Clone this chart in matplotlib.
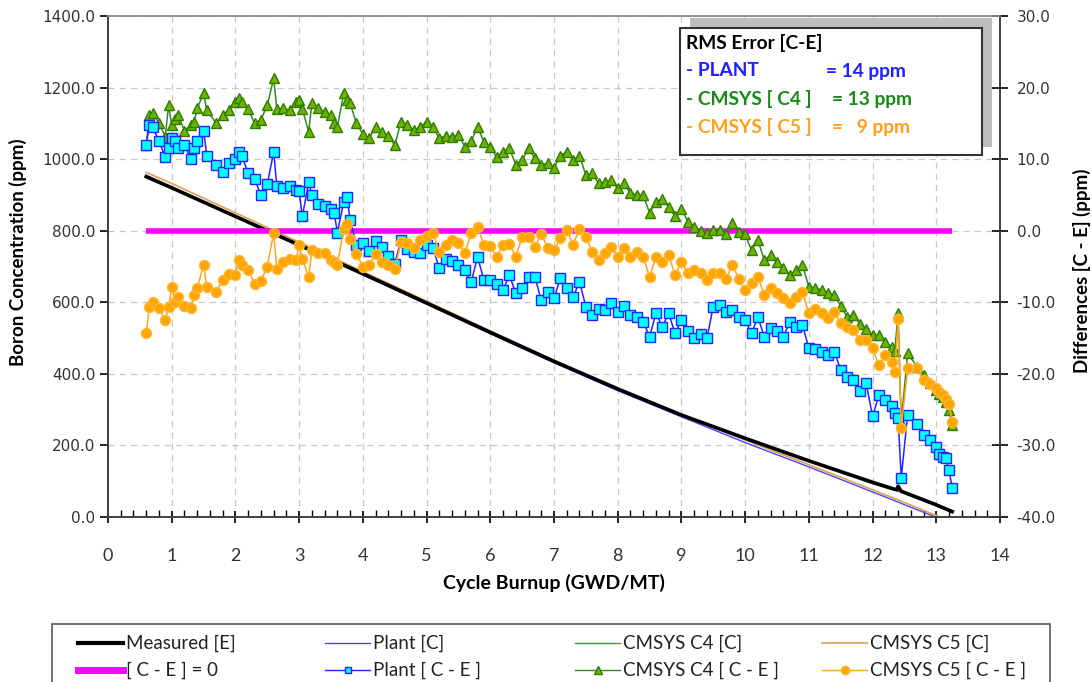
import matplotlib
matplotlib.use("Agg")
import matplotlib.pyplot as plt
from matplotlib.lines import Line2D
from matplotlib.patches import Rectangle
from matplotlib.ticker import MultipleLocator, FormatStrFormatter

# ---- data ----
burnup = [0.60, 0.65, 0.70, 0.80, 0.90, 0.95, 1.00, 1.05, 1.10, 1.20,
          1.30, 1.35, 1.40, 1.50, 1.55, 1.70, 1.80, 1.90, 2.00, 2.05,
          2.10, 2.20, 2.30, 2.40, 2.50, 2.60, 2.65, 2.75, 2.85, 2.95,
          3.00, 3.05, 3.15, 3.20, 3.30, 3.40, 3.50, 3.55, 3.60, 3.70,
          3.75, 3.80, 3.90,
          4.0, 4.1, 4.2, 4.3, 4.4, 4.5, 4.6, 4.7, 4.8, 4.9,
          5.0, 5.1, 5.2, 5.3, 5.4, 5.5, 5.6, 5.7, 5.8, 5.9,
          6.0, 6.1, 6.2, 6.3, 6.4, 6.5, 6.6, 6.7, 6.8, 6.9,
          7.0, 7.1, 7.2, 7.3, 7.4, 7.5, 7.6, 7.7, 7.8, 7.9,
          8.0, 8.1, 8.2, 8.3, 8.4, 8.5, 8.6, 8.7, 8.8, 8.9,
          9.0, 9.1, 9.2, 9.3, 9.4, 9.5, 9.6, 9.7, 9.8, 9.9,
          10.0, 10.1, 10.2, 10.3, 10.4, 10.5, 10.6, 10.7, 10.8, 10.9,
          11.0, 11.1, 11.2, 11.3, 11.4, 11.5, 11.6, 11.7, 11.8, 11.9,
          12.0, 12.1, 12.2, 12.3,
          12.35, 12.40, 12.45, 12.55, 12.70, 12.80, 12.90, 13.00, 13.05, 13.10,
          13.15, 13.20, 13.25]

plant_diff = [12.0, 14.75, 14.5, 12.5, 10.25, 11.5, 13.0, 12.5, 11.5, 12.0,
              10.0, 11.5, 12.5, 14.0, 10.5, 9.25, 8.25, 9.5, 10.0, 11.0,
              10.5, 8.0, 7.25, 5.0, 6.5, 11.0, 6.25, 6.0, 6.25, 5.75,
              5.5, 2.0, 6.75, 5.0, 3.75, 3.5, 3.0, 2.5, -0.25, 4.0,
              4.75, 1.5, -2.0,
              -1.75, -2.9, -1.5, -2.25, -3.5, -4.6, -1.3, -2.5, -3.0, -3.15,
              -2.0, -2.45, -5.25, -4.0, -4.3, -4.8, -5.5, -7.2, -3.65, -6.9,
              -6.9, -7.5, -8.3, -6.2, -8.75, -8.0, -6.45, -6.45, -9.7, -8.5,
              -9.45, -6.65, -8.0, -9.25, -7.15, -10.6, -11.75, -11.0, -11.1, -10.15,
              -11.3, -10.5, -11.75, -12.0, -12.7, -14.8, -11.55, -13.4, -11.55, -14.35,
              -12.5, -14.0, -15.05, -14.5, -15.05, -10.6, -10.4, -11.35, -11.1, -12.05,
              -12.5, -14.35, -12.05, -14.8, -13.65, -14.0, -14.8, -12.75, -13.4, -13.2,
              -16.4, -16.5, -16.9, -17.35, -16.9, -19.45, -20.4, -20.85, -22.45, -21.3,
              -25.95, -22.95, -23.65, -24.55,
              -25.5, -26.15, -34.5, -25.75, -27.0, -28.5, -29.25, -30.2, -31.25, -31.6,
              -31.75, -33.5, -35.9]

c4_diff = [12.0, 16.15, 16.5, 15.0, 13.15, 17.55, 14.75, 15.65, 16.15, 14.0,
           14.75, 15.2, 17.1, 19.2, 16.85, 15.0, 16.15, 16.85, 18.0, 18.5,
           18.0, 17.0, 15.0, 15.5, 17.5, 21.3, 17.0, 17.1, 16.85, 18.0,
           18.25, 17.0, 13.85, 17.8, 17.1, 16.6, 16.15, 15.0, 14.5, 19.2,
           18.25, 17.8, 15.0,
           13.5, 12.9, 14.55, 13.85, 13.25, 11.95, 15.25, 14.75, 14.05, 14.5,
           15.25, 14.5, 12.9, 13.25, 13.1, 13.4, 11.75, 12.5, 14.5, 12.45,
           11.75, 10.25, 11.05, 11.5, 9.25, 9.9, 11.5, 10.1, 9.25, 9.4,
           8.7, 10.5, 11.0, 9.9, 10.5, 7.75, 8.0, 6.6, 6.75, 7.05,
           5.9, 6.6, 5.2, 5.0, 4.95, 2.5, 4.0, 4.5, 3.35, 2.0,
           3.1, 1.25, 0.55, 0.0, -0.35, 0.1, 0.1, -0.5, 1.05, -0.15,
           -0.5, -2.75, -1.3, -4.1, -3.4, -4.35, -5.25, -6.2, -5.5, -4.8,
           -7.85, -8.0, -8.3, -8.75, -9.0, -10.5, -12.05, -11.8, -13.0, -13.75,
           -14.6, -14.6, -15.5, -16.25,
           -16.75, -11.45, -26.7, -17.15, -19.0, -20.15, -21.25, -22.25, -22.75, -23.25,
           -23.9, -25.0, -27.15]

c5_diff = [-14.25, -10.6, -10.0, -10.85, -12.5, -10.6, -7.85, -9.95, -9.25, -10.5,
           -10.85, -9.0, -8.0, -4.8, -7.85, -8.5, -6.9, -6.0, -6.2, -4.1,
           -4.75, -5.5, -7.4, -7.0, -5.0, -0.3, -5.3, -4.35, -3.9, -4.1,
           -2.0, -4.0, -6.45, -2.7, -3.15, -3.15, -4.1, -4.35, -4.8, 0.3,
           0.9, -1.1, -3.2,
           -5.0, -4.8, -3.2, -4.35, -4.8, -5.3, -1.55, -1.7, -2.4, -1.3,
           -0.75, -0.35, -2.95, -2.0, -1.3, -1.7, -3.1, -0.35, 0.55, -2.0,
           -2.2, -3.65, -2.0, -1.8, -3.65, -0.85, -0.85, -2.25, -0.4, -2.45,
           -2.7, -1.0, 0.1, -2.0, 0.3, -0.85, -2.95, -4.1, -3.15, -2.25,
           -3.65, -2.45, -3.65, -3.0, -3.65, -6.45, -3.65, -4.35, -3.4, -6.2,
           -4.35, -5.95, -5.5, -5.95, -6.9, -5.95, -5.95, -6.7, -4.8, -6.7,
           -8.3, -7.35, -6.45, -9.0, -8.05, -8.75, -9.45, -10.15, -9.25, -8.55,
           -11.55, -11.0, -11.55, -12.25, -11.3, -12.95, -13.5, -13.9, -15.3, -15.3,
           -16.45, -18.8, -17.4, -18.3,
           -19.7, -12.4, -27.6, -19.25, -19.25, -20.85, -21.35, -22.0, -22.5, -22.95,
           -23.5, -24.15, -26.7]

# boron concentration curves (left axis)
line_burnup = [0.6, 1.0, 2.0, 3.0, 4.0, 5.0, 6.0, 7.0, 8.0, 9.0, 10.0,
               11.0, 12.0, 12.3, 12.38, 12.4, 12.45, 13.0, 13.25]
measured = [951, 920, 840, 760, 680, 598, 516, 435, 358, 285, 220,
            157, 97, 80, 76, 86, 72, 34, 15]
plant_c = [955, 922, 840, 758, 676, 595, 512, 431, 353, 280, 208,
           140, 70, 49, 43, 42, 38, -1, -19]
c4_c = [949, 918, 838, 758, 678, 596, 514, 433, 356, 283, 218,
        155, 93, 77, 73, 72, 69, 31, 12]
c5_c = [963, 932, 850, 768, 686, 603, 520, 438, 360, 287, 215,
        146, 76, 55, 49, 48, 44, 4, -14]

rms_rows = [("- PLANT", "= 14 ppm", "#1F1FFF"),
            ("- CMSYS [ C4 ]", "= 13 ppm", "#178A17"),
            ("- CMSYS [ C5 ]", "=   9 ppm", "#FF9F1A")]

W, H = 1092, 682
LABEL = ["Lato", "DejaVu Sans"]

fig = plt.figure(figsize=(W / 100, H / 100), dpi=100)
ax = fig.add_axes([108 / W, 1 - 517 / H, 892 / W, 501 / H])
ax2 = ax.twinx()

# computed / measured concentrations
ax.plot(line_burnup, c4_c, color="#3A9A3A", lw=1.0, zorder=2)
ax.plot(line_burnup, plant_c, color="#4646FF", lw=1.0, zorder=2)
ax.plot(line_burnup, c5_c, color="#E0A050", lw=1.2, zorder=2)
ax.plot(line_burnup, measured, color="black", lw=2.6, zorder=3)

# differences (right axis)
ax2.plot([burnup[0], burnup[-1]], [0, 0], color="#FF00FF", lw=4, zorder=1,
         solid_capstyle="butt")
ax2.plot(burnup, c4_diff, color="#2E8B22", lw=1.1, marker="^", ms=7.5,
         mfc="#6DB300", mec="#2E7D00", mew=1.0, zorder=2)
ax2.plot(burnup, plant_diff, color="#2323FF", lw=1.1, marker="s", ms=6.8,
         mfc="#00FFFF", mec="#2323FF", mew=1.0, zorder=3)
ax2.plot(burnup, c5_diff, color="#FFA31A", lw=1.1, marker="o", ms=7.2,
         mfc="#FFA500", mec="#FFB733", mew=1.0, zorder=4)

# axes
ax.set_xlim(0, 14)
ax.set_ylim(0, 1400)
ax2.set_ylim(-40, 30)
ax.xaxis.set_major_locator(MultipleLocator(1))
ax.xaxis.set_minor_locator(MultipleLocator(0.2))
ax.yaxis.set_major_locator(MultipleLocator(200))
ax2.yaxis.set_major_locator(MultipleLocator(10))
ax.yaxis.set_major_formatter(FormatStrFormatter("%.1f"))
ax2.yaxis.set_major_formatter(FormatStrFormatter("%.1f"))

ax.grid(True, which="major", color="#C8C8C8", ls=(0, (5, 4)), lw=0.9)
ax.set_axisbelow(True)

for a in (ax, ax2):
    for s in a.spines.values():
        s.set_color("#404040")
        s.set_linewidth(1.2)
ax.spines["top"].set_color("#909090")
ax2.spines["top"].set_color("#909090")

ax.tick_params(axis="y", direction="out", length=6, width=1.2, pad=3,
               labelsize=11, labelcolor="#333333")
ax2.tick_params(axis="y", direction="inout", length=12, width=1.2, pad=6,
                labelsize=11, labelcolor="#333333")
ax.tick_params(axis="x", which="major", direction="inout", length=9, width=1.2,
               pad=18, labelsize=13, labelcolor="#333333")
ax.tick_params(axis="x", which="minor", direction="in", length=5, width=1.0)
for t in ax.get_xticklabels():
    t.set_family(LABEL)

ax.set_xlabel("Cycle Burnup (GWD/MT)", family=LABEL, fontsize=14,
              fontweight="bold", va="center")
ax.xaxis.set_label_coords(0.5, -(583 - 517) / 501)
ax.set_ylabel("Boron Concentration (ppm)", family=LABEL, fontsize=13.5,
              fontweight="bold", va="center")
ax.yaxis.set_label_coords(-(108 - 18) / 892, (517 - 252) / 501)
ax2.set_ylabel("Differences [C - E] (ppm)", family=LABEL, fontsize=13.5,
               fontweight="bold", va="center", rotation=90)
ax2.yaxis.set_label_coords((1082 - 108) / 892, (517 - 271) / 501)

# RMS error box with its shadow
fig.patches.append(Rectangle((690 / W, 1 - 147 / H), 302 / W, 129 / H,
                             transform=fig.transFigure, fc="#BEBEBE", ec="none"))
fig.patches.append(Rectangle((680 / W, 1 - 155 / H), 302 / W, 127 / H,
                             transform=fig.transFigure, fc="white",
                             ec="#333333", lw=1.5))
fig.text(686 / W, 1 - 43 / H, "RMS Error [C-E]", family=LABEL, fontsize=13.8,
         fontweight="bold", va="center", color="black")
for i, (name, val, col) in enumerate(rms_rows):
    y = 1 - (71 + 28 * i) / H
    fig.text(686 / W, y, name, family=LABEL, fontsize=13.8, fontweight="bold",
             va="center", color=col)
    fig.text((826 if i == 0 else 832) / W, y, val, family=LABEL, fontsize=13.8,
             fontweight="bold", va="center", color=col)

# bottom legend, one block per column
fig.patches.append(Rectangle((52 / W, -0.05), 998 / W, 1 - 624 / H + 0.05,
                             transform=fig.transFigure, fc="white",
                             ec="#666666", lw=1.3))
columns = [
    [(Line2D([], [], color="black", lw=3), "Measured [E]"),
     (Line2D([], [], color="#FF00FF", lw=5), "[ C - E ] = 0")],
    [(Line2D([], [], color="#4646FF", lw=1), "Plant [C]"),
     (Line2D([], [], color="#2323FF", lw=1, marker="s", ms=5, mfc="#00FFFF",
             mec="#2323FF"), "Plant [ C - E ]")],
    [(Line2D([], [], color="#3A9A3A", lw=1), "CMSYS C4 [C]"),
     (Line2D([], [], color="#2E8B22", lw=1, marker="^", ms=6, mfc="#6DB300",
             mec="#2E7D00"), "CMSYS C4 [ C - E ]")],
    [(Line2D([], [], color="#E0A050", lw=1.2), "CMSYS C5 [C]"),
     (Line2D([], [], color="#FFA31A", lw=1, marker="o", ms=6, mfc="#FFA500",
             mec="#FFB733"), "CMSYS C5 [ C - E ]")],
]
col_x = [78, 325, 575, 822]
for x, col in zip(col_x, columns):
    hs, ls = zip(*col)
    lg = fig.legend(hs, ls, loc="upper left", bbox_to_anchor=(x / W, 1 - 635 / H),
                    frameon=False, ncol=1, borderpad=0, borderaxespad=0,
                    handlelength=2.4, handletextpad=0.15, labelspacing=0.52,
                    prop={"family": LABEL, "size": 13.5})
    for t in lg.get_texts():
        t.set_color("#222222")

fig.savefig("out.png", dpi=100)
